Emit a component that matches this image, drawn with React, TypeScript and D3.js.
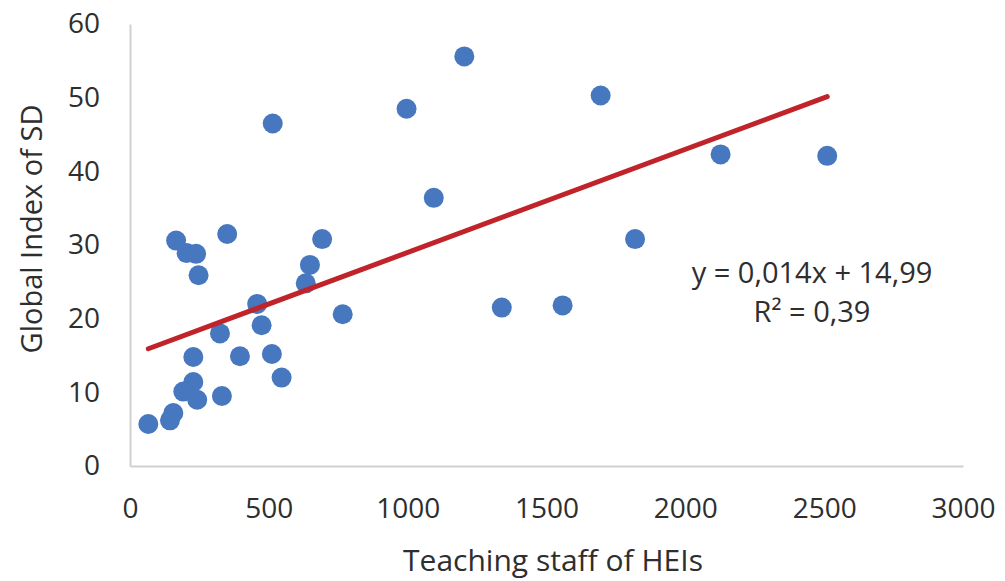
import React, { useRef, useEffect } from 'react';
import * as d3 from 'd3';

// teaching staff of HEIs (x) and global index of SD (y)
const staff = [166, 350, 204, 238, 247, 692, 648, 633, 458, 766, 474, 324, 228, 396, 511, 546, 228, 192, 242, 331, 156, 144, 66, 1204, 1695, 996, 1094, 1819, 1339, 1558, 2127, 2511, 514];
const sdIndex = [30.6, 31.5, 28.9, 28.8, 25.9, 30.8, 27.3, 24.8, 22.0, 20.6, 19.1, 18.0, 14.8, 14.9, 15.2, 12.0, 11.4, 10.1, 9.0, 9.5, 7.2, 6.2, 5.7, 55.6, 50.3, 48.5, 36.4, 30.8, 21.5, 21.8, 42.3, 42.1, 46.5];
const xTicks = [0, 500, 1000, 1500, 2000, 2500, 3000];
const yTicks = [0, 10, 20, 30, 40, 50, 60];
const slope = 0.014;
const intercept = 14.99;
const eqLabel = 'y = 0,014x + 14,99';
const r2Label = 'R² = 0,39';

const App = () => {
  const svgRef = useRef(null);

  useEffect(() => {
    const svg = d3.select(svgRef.current);
    svg.selectAll('*').remove();

    const font = '"Open Sans", sans-serif';
    const textColor = '#2e2e2e';

    const xScale = d3.scaleLinear().domain([0, 3000]).range([130, 963]);
    const yScale = d3.scaleLinear().domain([0, 60]).range([466, 24]);

    // x axis
    const xAxis = svg
      .append('g')
      .attr('transform', `translate(0, ${yScale(0)})`)
      .call(d3.axisBottom(xScale).tickValues(xTicks).tickFormat(d3.format('d')).tickSize(0).tickPadding(32));
    xAxis.select('.domain').attr('stroke', '#d0d0d0').attr('stroke-width', 2);
    xAxis.selectAll('text').attr('font-family', font).attr('font-size', 28).attr('fill', textColor);

    // y axis
    const yAxis = svg
      .append('g')
      .attr('transform', `translate(${xScale(0)}, 0)`)
      .call(d3.axisLeft(yScale).tickValues(yTicks).tickSize(0).tickPadding(30));
    yAxis.select('.domain').attr('stroke', '#d0d0d0').attr('stroke-width', 2);
    yAxis.selectAll('text').attr('font-family', font).attr('font-size', 28).attr('fill', textColor);

    const data = staff.map((s, i) => ({ x: s, y: sdIndex[i] }));

    svg
      .selectAll('.dot')
      .data(data)
      .enter()
      .append('circle')
      .attr('class', 'dot')
      .attr('cx', d => xScale(d.x))
      .attr('cy', d => yScale(d.y))
      .attr('r', 10)
      .attr('fill', '#4677bf');

    // linear trend line
    const [xMin, xMax] = d3.extent(staff);
    const trend = [xMin, xMax].map(x => ({ x, y: intercept + slope * x }));
    svg
      .append('path')
      .datum(trend)
      .attr('d', d3.line().x(d => xScale(d.x)).y(d => yScale(d.y)))
      .attr('stroke', '#c0242a')
      .attr('stroke-width', 5)
      .attr('stroke-linecap', 'round')
      .attr('fill', 'none');

    // equation
    svg
      .append('text')
      .attr('x', 812)
      .attr('y', 283)
      .attr('text-anchor', 'middle')
      .attr('font-family', font)
      .attr('font-size', 29)
      .attr('fill', textColor)
      .text(eqLabel);
    svg
      .append('text')
      .attr('x', 812)
      .attr('y', 322)
      .attr('text-anchor', 'middle')
      .attr('font-family', font)
      .attr('font-size', 29)
      .attr('fill', textColor)
      .text(r2Label);

    // axis titles
    svg
      .append('text')
      .attr('x', 553)
      .attr('y', 571)
      .attr('text-anchor', 'middle')
      .attr('font-family', font)
      .attr('font-size', 30)
      .attr('fill', textColor)
      .text('Teaching staff of HEIs');
    svg
      .append('text')
      .attr('transform', 'translate(42, 229) rotate(-90)')
      .attr('text-anchor', 'middle')
      .attr('font-family', font)
      .attr('font-size', 29)
      .attr('fill', textColor)
      .text('Global Index of SD');
  }, []);

  return (
    <svg
      ref={svgRef}
      width={1005}
      height={581}
      style={{ position: 'absolute', left: 0, top: 0, background: '#fff' }}
    />
  );
};

export default App;
